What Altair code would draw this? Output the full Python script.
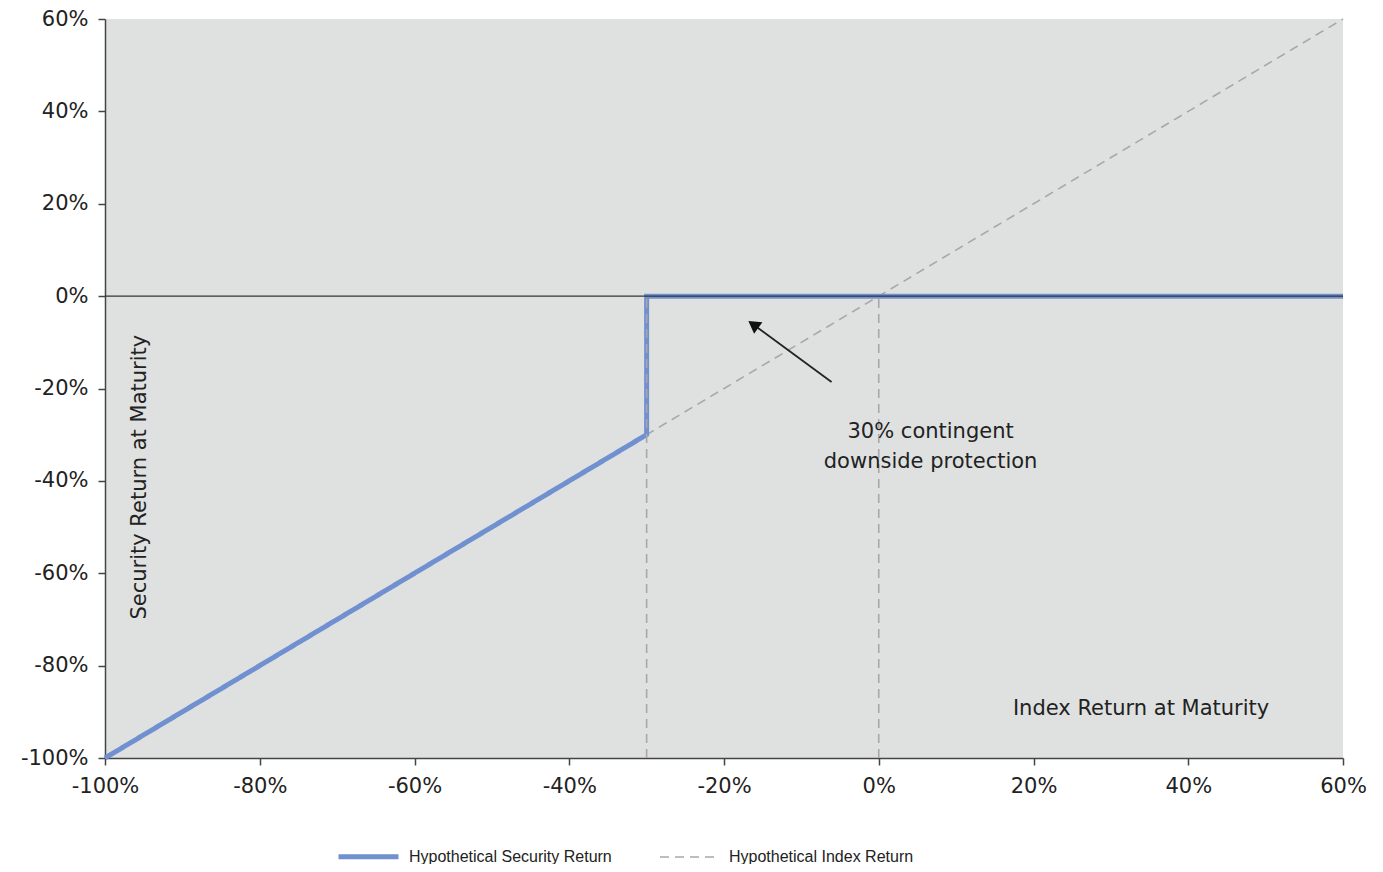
import altair as alt
import pandas as pd

# ---- data ----
series_names = ["Hypothetical Security Return", "Hypothetical Index Return"]
security_x = [-100, -30, -30, 60]
security_y = [-100, -30, 0, 0]
index_x = [-100, 60]
index_y = [-100, 60]
drop_x = [-30, 0]
axis_ticks = [-100, -80, -60, -40, -20, 0, 20, 40, 60]

note_text = ["30% contingent", "downside protection"]
note_x = [6.7, 6.7]
note_y = [-29.4, -35.9]
arrow_x = [-6.1, -16.0]
arrow_y = [-18.6, -6.4]
xlabel_text = ["Index Return at Maturity"]
xlabel_x = [33.9]
xlabel_y = [-89.4]
ylabel_text = ["Security Return at Maturity"]
ylabel_x = [-95.5]
ylabel_y = [-39.2]

BLUE = "#7090d0"
GRAY = "#a8a8a8"
FONT = "DejaVu Sans"
TXT = "#222222"

rows = []
for i, (x, y) in enumerate(zip(security_x, security_y)):
    rows.append({"series": series_names[0], "x": x, "y": y, "o": i})
for i, (x, y) in enumerate(zip(index_x, index_y)):
    rows.append({"series": series_names[1], "x": x, "y": y, "o": i})
lines_df = pd.DataFrame(rows)

xs = alt.Scale(domain=[-100, 60], nice=False, zero=False)
ys = alt.Scale(domain=[-100, 60], nice=False, zero=False)

x_axis = alt.Axis(values=axis_ticks, labelExpr="datum.value + '%'", title=None, grid=False,
                  domainColor="#444", domainWidth=1.5, tickColor="#444", tickWidth=1.5,
                  tickSize=7, labelPadding=10, labelFont=FONT, labelFontSize=21,
                  labelColor=TXT, labelFlush=False, labelOverlap=False)
y_axis = alt.Axis(values=axis_ticks, labelExpr="datum.value + '%'", title=None, grid=False,
                  domainColor="#444", domainWidth=1.5, tickColor="#444", tickWidth=1.5,
                  tickSize=7, labelPadding=10, labelFont=FONT, labelFontSize=21,
                  labelColor=TXT, labelFlush=False, labelOverlap=False)

color_scale = alt.Scale(domain=series_names, range=[BLUE, GRAY])
dash_scale = alt.Scale(domain=series_names, range=[[1, 0], [9, 6]])
width_scale = alt.Scale(domain=series_names, range=[5, 1.6])

idx_layer = alt.Chart(lines_df).transform_filter(
    alt.datum.series == series_names[1]
).mark_line(strokeCap="butt").encode(
    x=alt.X("x:Q", scale=xs, axis=x_axis),
    y=alt.Y("y:Q", scale=ys, axis=y_axis),
    order="o:Q",
    color=alt.Color("series:N", scale=color_scale, title=None,
                    legend=alt.Legend(orient="none", legendX=231, legendY=805,
                                      direction="horizontal", symbolType="stroke",
                                      symbolSize=3600, labelFont="Liberation Sans",
                                      labelFontSize=16, labelColor=TXT, columnPadding=44,
                                      labelOffset=8, labelLimit=400)),
    strokeDash=alt.StrokeDash("series:N", scale=dash_scale, legend=None),
    strokeWidth=alt.StrokeWidth("series:N", scale=width_scale, legend=None),
)

sec_layer = alt.Chart(lines_df).transform_filter(
    alt.datum.series == series_names[0]
).mark_line(strokeJoin="miter", strokeCap="butt").encode(
    x=alt.X("x:Q", scale=xs),
    y=alt.Y("y:Q", scale=ys),
    order="o:Q",
    color=alt.Color("series:N", scale=color_scale),
    strokeDash=alt.StrokeDash("series:N", scale=dash_scale),
    strokeWidth=alt.StrokeWidth("series:N", scale=width_scale),
)

drop_df = pd.DataFrame({"x": drop_x, "y": [-100, -100], "y2": [0, 0]})
drops = alt.Chart(drop_df).mark_rule(color=GRAY, strokeWidth=1.6, strokeDash=[9, 6]).encode(
    x=alt.X("x:Q", scale=xs), y=alt.Y("y:Q", scale=ys), y2="y2:Q"
)

zero_df = pd.DataFrame({"x": [-100], "x2": [60], "y": [0]})
zero_line = alt.Chart(zero_df).mark_rule(color="#333", strokeWidth=1.4).encode(
    x=alt.X("x:Q", scale=xs), x2="x2:Q", y=alt.Y("y:Q", scale=ys)
)

arrow_df = pd.DataFrame({"x": arrow_x, "y": arrow_y, "o": [0, 1]})
arrow_line = alt.Chart(arrow_df).mark_line(color="#222", strokeWidth=1.8).encode(
    x=alt.X("x:Q", scale=xs), y=alt.Y("y:Q", scale=ys), order="o:Q"
)
arrow_head = alt.Chart(arrow_df.iloc[[1]]).mark_point(
    shape="triangle", filled=True, color="#111", size=200, angle=306, opacity=1
).encode(x=alt.X("x:Q", scale=xs), y=alt.Y("y:Q", scale=ys))

note_df = pd.DataFrame({"t": note_text, "x": note_x, "y": note_y})
notes = alt.Chart(note_df).mark_text(font=FONT, fontSize=21, color=TXT, align="center",
                                     baseline="middle").encode(
    x=alt.X("x:Q", scale=xs), y=alt.Y("y:Q", scale=ys), text="t:N"
)

xl_df = pd.DataFrame({"t": xlabel_text, "x": xlabel_x, "y": xlabel_y})
xl = alt.Chart(xl_df).mark_text(font=FONT, fontSize=21, color=TXT, align="center",
                                baseline="middle").encode(
    x=alt.X("x:Q", scale=xs), y=alt.Y("y:Q", scale=ys), text="t:N"
)

yl_df = pd.DataFrame({"t": ylabel_text, "x": ylabel_x, "y": ylabel_y})
yl = alt.Chart(yl_df).mark_text(font=FONT, fontSize=21, color=TXT, align="center",
                                baseline="middle", angle=270).encode(
    x=alt.X("x:Q", scale=xs), y=alt.Y("y:Q", scale=ys), text="t:N"
)

chart = alt.layer(
    idx_layer, sec_layer, drops, zero_line, arrow_line, arrow_head, notes, xl, yl
).properties(
    width=1238, height=739,
    autosize=alt.AutoSizeParams(type="none"),
    padding={"left": 97, "top": 11, "right": 24, "bottom": 106},
    background="white",
).configure_view(
    fill="#dfe1e1", stroke=None
)

chart.save("out.html", embed_options={"renderer": "svg", "actions": False})
